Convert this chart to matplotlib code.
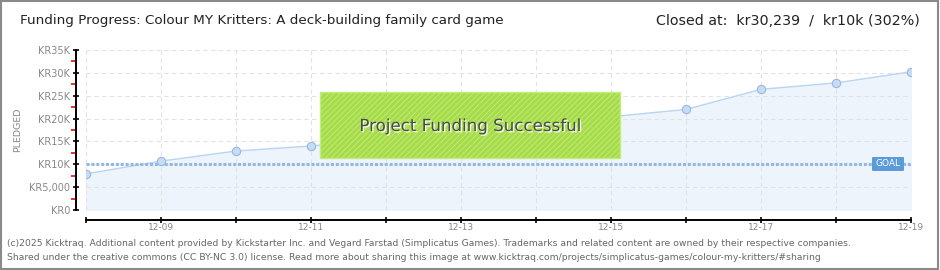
import matplotlib

matplotlib.use("Agg")
import matplotlib.pyplot as plt
import matplotlib.patheffects as pe
from matplotlib.patches import Rectangle, FancyBboxPatch
from matplotlib.ticker import FixedLocator

# data
dates = ["12-08", "12-09", "12-10", "12-11", "12-12", "12-13",
         "12-14", "12-15", "12-16", "12-17", "12-18", "12-19"]
pledged = [7900, 10700, 12900, 14000, 15500, 17100,
           18700, 20400, 22000, 26400, 27800, 30239]
goal = 10000
ytick_vals = [0, 5000, 10000, 15000, 20000, 25000, 30000, 35000]
ytick_labels = ["KR0", "KR5,000", "KR10K", "KR15K", "KR20K", "KR25K", "KR30K", "KR35K"]

title = "Funding Progress: Colour MY Kritters: A deck-building family card game"
closed = "Closed at:  kr30,239  /  kr10k (302%)"
footer1 = ("(c)2025 Kicktraq. Additional content provided by Kickstarter Inc. and Vegard Farstad "
           "(Simplicatus Games). Trademarks and related content are owned by their respective companies.")
footer2 = ("Shared under the creative commons (CC BY-NC 3.0) license. Read more about sharing this image "
           "at www.kicktraq.com/projects/simplicatus-games/colour-my-kritters/#sharing")

FONT = ["Liberation Sans Narrow", "DejaVu Sans"]
W, H = 940, 270

plt.rcParams["hatch.color"] = "#9cd243"
plt.rcParams["hatch.linewidth"] = 0.6

fig = plt.figure(figsize=(W / 100, H / 100), dpi=100)
ax = fig.add_axes([86 / W, (H - 210) / H, (911 - 86) / W, 160 / H])

x = list(range(len(dates)))
ax.fill_between(x, pledged, 0, color="#edf4fc", zorder=1)
ax.plot(x, pledged, color="#b9d5f2", lw=1, zorder=3)
ax.plot(x, pledged, "o", ms=6, mfc="#c4dcf6", mec="#9db8d8", mew=0.8, zorder=4)
ax.axhline(goal, color="#94b8e3", lw=2.2, ls=(0, (1, 0.6)), zorder=3)

ax.set_xlim(0, len(dates) - 1)
ax.set_ylim(0, 35000)
ax.set_xticks(x)
ax.set_xticklabels([d if i % 2 == 1 else "" for i, d in enumerate(dates)])
ax.set_yticks(ytick_vals)
ax.set_yticklabels(ytick_labels)
ax.yaxis.set_minor_locator(FixedLocator([2500 + 5000 * i for i in range(7)]))

ax.grid(True, color="#e2e2e2", ls=(0, (4, 3)), lw=0.8, zorder=0)
for s in ["top", "right"]:
    ax.spines[s].set_visible(False)
ax.spines["left"].set_position(("outward", 7))
ax.spines["bottom"].set_position(("outward", 7.5))
ax.spines["left"].set_linewidth(1.4)
ax.spines["bottom"].set_linewidth(1.4)
ax.tick_params(axis="y", which="major", direction="inout", length=5, width=1.2,
               labelsize=7, labelcolor="#888888", pad=2)
ax.tick_params(axis="y", which="minor", direction="out", length=3.5, width=1.3, color="#dd2222")
ax.tick_params(axis="x", which="major", direction="inout", length=5, width=1.2,
               labelsize=6.5, labelcolor="#888888", pad=-1)
ax.set_ylabel("PLEDGED", fontsize=6.8, color="#888888", labelpad=5)

# goal tag
fig.patches.append(FancyBboxPatch((872 / W, (H - 171) / H), 32 / W, 14 / H,
                                  boxstyle="round,pad=0,rounding_size=0.002",
                                  transform=fig.transFigure, fc="#5b9bd8", ec="none", zorder=5))
fig.text(888 / W, (H - 164) / H, "GOAL", color="white", fontsize=6.5,
         ha="center", va="center", zorder=6)

# success banner
fig.patches.append(Rectangle((320 / W, (H - 158) / H), 300 / W, 66 / H,
                             transform=fig.transFigure, fc="#a6dc4b", ec="#c4ec7a",
                             lw=1, hatch="//////", zorder=5))
fig.text(470 / W, (H - 126) / H, "Project Funding Successful", family=FONT,
         fontsize=12, color="#474b4e", ha="center", va="center", zorder=6,
         path_effects=[pe.withSimplePatchShadow(offset=(1, -1), shadow_rgbFace="white", alpha=0.9)])

# header
fig.text(20 / W, (H - 21) / H, title, family=FONT, fontsize=9.7, color="#222222", va="center")
fig.text(920 / W, (H - 21) / H, closed, family=FONT, fontsize=10.3, color="#222222",
         va="center", ha="right")

# footer
fig.text(7 / W, (H - 243) / H, footer1, family=FONT, fontsize=6.7, color="#666666", va="center")
fig.text(7 / W, (H - 257) / H, footer2, family=FONT, fontsize=6.7, color="#666666", va="center")

fig.patches.append(Rectangle((0.001, 0.002), 0.997, 0.995, transform=fig.transFigure,
                             fc="none", ec="#8a8a8a", lw=1.5, zorder=10))

fig.savefig("out.png", dpi=100, facecolor="white")
